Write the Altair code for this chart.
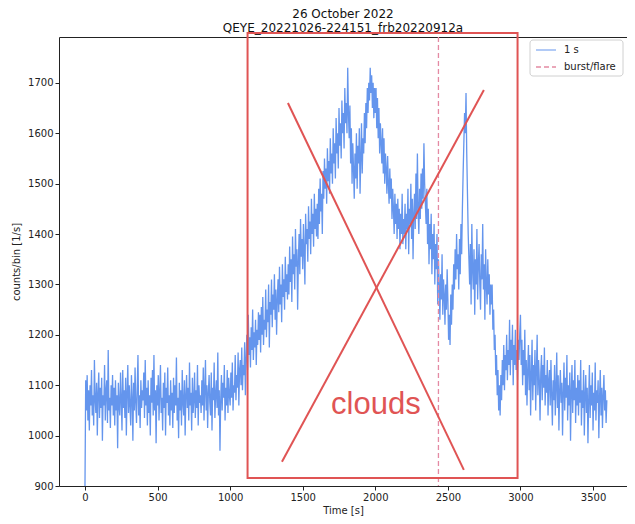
import altair as alt
import pandas as pd

counts = [
    900, 1110, 1050, 1120, 1030, 1090, 1010, 1100, 1060, 1130, 1040, 1080, 1020, 1150, 1070, 1045, 1105, 1000, 1085, 1125,
    1035, 1095, 1055, 1115, 990, 1080, 1060, 1140, 1030, 1090, 1110, 1025, 1170, 1050, 1075, 1015, 1100, 1060, 1120, 1040,
    1095, 1020, 1110, 1050, 1080, 975, 1105, 1060, 1040, 1125, 1070, 1010, 1130, 1055, 1090, 1035, 1115, 1000, 1085, 1140,
    1045, 1100, 1060, 1020, 1120, 1075, 990, 1105, 1050, 1135, 1065, 1025, 1095, 1160, 1040, 1080, 1015, 1110, 1055, 1090,
    1070, 1125, 1035, 1150, 1060, 1095, 1020, 1110, 1045, 1080, 1000, 1115, 1065, 1130, 1040, 1160, 1050, 1090, 985, 1100,
    1060, 1120, 1030, 1085, 1140, 1045, 1075, 1010, 1105, 1055, 1125, 1000, 1095, 1065, 1135, 1040, 1080, 1020, 1110, 1050,
    1085, 1015, 1115, 1045, 1100, 1060, 1155, 1030, 1075, 995, 1105, 1050, 1090, 1020, 1130, 1065, 1040, 1110, 1000, 1080,
    1120, 1055, 1095, 1030, 1145, 1060, 1085, 1010, 1115, 1045, 1070, 1125, 1035, 1090, 1055, 1140, 1020, 1100, 1065, 1080,
    1045, 1110, 1060, 1135, 1030, 1090, 1150, 1050, 1100, 1015, 1085, 1120, 1065, 1040, 1125, 1010, 1095, 1070, 1145, 1035,
    1080, 1110, 1055, 1165, 1040, 1090, 970, 1070, 1120, 1050, 1105, 1075, 1140, 1030, 1095, 1060, 1130, 1045, 1115, 1080,
    1060, 1125, 1075, 1145, 1050, 1100, 1085, 1160, 1070, 1120, 1095, 1165, 1060, 1130, 1150, 1100, 1175, 1090, 1140, 1120,
    1185, 1080, 1150, 1200, 1130, 1240, 1160, 1195, 1135, 1215, 1170, 1250, 1150, 1205, 1175, 1230, 1140, 1210, 1180, 1245,
    1190, 1240, 1165, 1255, 1200, 1275, 1180, 1230, 1210, 1290, 1195, 1250, 1225, 1300, 1175, 1265, 1240, 1310, 1215, 1280,
    1250, 1320, 1230, 1290, 1200, 1270, 1310, 1245, 1335, 1260, 1300, 1225, 1340, 1275, 1310, 1250, 1355, 1285, 1320, 1270,
    1340, 1280, 1375, 1305, 1350, 1265, 1395, 1320, 1360, 1290, 1410, 1335, 1370, 1250, 1345, 1400, 1320, 1430, 1355, 1390,
    1330, 1420, 1365, 1300, 1440, 1380, 1410, 1345, 1455, 1390, 1425, 1360, 1470, 1400, 1440, 1375, 1480, 1410, 1450, 1395,
    1460, 1390, 1490, 1420, 1510, 1445, 1480, 1400, 1525, 1470, 1550, 1490, 1530, 1460, 1570, 1505, 1545, 1480, 1590, 1520,
    1560, 1500, 1610, 1540, 1580, 1510, 1630, 1560, 1600, 1530, 1650, 1575, 1620, 1550, 1665, 1600, 1640, 1570, 1690, 1620,
    1660, 1600, 1730, 1640, 1590, 1655, 1540, 1610, 1500, 1580, 1530, 1470, 1560, 1510, 1600, 1490, 1575, 1540, 1610, 1480,
    1550, 1620, 1520, 1590, 1560, 1640, 1580, 1660, 1610, 1690, 1640, 1700, 1665, 1730, 1680, 1715, 1650, 1700, 1630, 1690,
    1640, 1690, 1610, 1670, 1590, 1650, 1560, 1620, 1580, 1540, 1610, 1520, 1590, 1500, 1560, 1530, 1480, 1555, 1500, 1460,
    1530, 1470, 1510, 1430, 1490, 1450, 1400, 1480, 1420, 1460, 1390, 1470, 1410, 1450, 1370, 1440, 1400, 1480, 1380, 1430,
    1400, 1460, 1370, 1440, 1410, 1490, 1360, 1450, 1420, 1500, 1390, 1470, 1350, 1440, 1480, 1410, 1520, 1430, 1560, 1450,
    1400, 1490, 1430, 1520, 1450, 1530, 1470, 1580, 1500, 1460, 1420, 1490, 1380, 1450, 1340, 1420, 1370, 1440, 1320, 1400,
    1350, 1420, 1300, 1380, 1330, 1400, 1260, 1350, 1300, 1230, 1320, 1270, 1360, 1240, 1310, 1280, 1220, 1300, 1250, 1330,
    1270, 1190, 1240, 1180, 1280, 1220, 1300, 1250, 1340, 1290, 1370, 1310, 1400, 1330, 1360, 1290, 1390, 1320, 1420, 1360,
    1450, 1520, 1580, 1640, 1600, 1680, 1560, 1480, 1400, 1350, 1300, 1380, 1260, 1420, 1330, 1290, 1370, 1240, 1350, 1300,
    1410, 1270, 1340, 1380, 1300, 1250, 1360, 1310, 1420, 1290, 1340, 1230, 1370, 1300, 1260, 1350, 1280, 1320, 1240, 1300,
    1260, 1300, 1210, 1250, 1170, 1200, 1120, 1160, 1080, 1130, 1050, 1100, 1040, 1120, 1070, 1150, 1100, 1180, 1090, 1160,
    1130, 1200, 1110, 1170, 1140, 1230, 1120, 1190, 1150, 1220, 1100, 1180, 1140, 1210, 1130, 1170, 1110, 1190, 1150, 1200,
    1240, 1140, 1190, 1100, 1170, 1120, 1210, 1080, 1150, 1060, 1130, 1180, 1090, 1160, 1040, 1120, 1190, 1070, 1140, 1100,
    1170, 1050, 1130, 1200, 1080, 1150, 1110, 1030, 1125, 1160, 1070, 1140, 1095, 1175, 1060, 1120, 1085, 1150, 1040, 1110,
    1130, 1060, 1150, 1080, 1020, 1110, 1070, 1140, 1040, 1095, 1165, 1055, 1120, 1010, 1090, 1130, 1065, 1105, 1000, 1085,
    1145, 1050, 1115, 1075, 1160, 1030, 1100, 1060, 1125, 990, 1085, 1140, 1045, 1110, 1070, 1150, 1025, 1095, 1060, 1120,
    1040, 1110, 1065, 1150, 1020, 1090, 1055, 1130, 1000, 1080, 1120, 1045, 1095, 985, 1070, 1140, 1035, 1100, 1060, 1125,
    1010, 1085, 1050, 1145, 1030, 1090, 1065, 1110, 995, 1075, 1130, 1040, 1095, 1015, 1080, 1120, 1050, 1090, 1025, 1070,
]
sample_step = 5
times = [i * sample_step for i in range(len(counts))]

burst_time = [2435]

# hand-drawn annotation (in data units)
box_t = [1120, 2980]
box_v = [916, 1799]
cross_t1 = [1398, 1357]
cross_v1 = [1660, 948]
cross_t2 = [2610, 2748]
cross_v2 = [932, 1686]
label_text = ["clouds"]
label_t = [2004]
label_v = [1061]

x_ticks = [0, 500, 1000, 1500, 2000, 2500, 3000, 3500]
y_ticks = [900, 1000, 1100, 1200, 1300, 1400, 1500, 1600, 1700]

BLUE = "#6495ED"
PINK = "#e48aa3"
RED = "#e05454"
FONT = "DejaVu Sans"

xs = alt.Scale(domain=[-179, 3734], nice=False, zero=False)
ys = alt.Scale(domain=[900, 1791], nice=False, zero=False)

df = pd.DataFrame({"t": times, "c": counts})

line = alt.Chart(df).mark_line(color=BLUE, strokeWidth=1.3, clip=True).encode(
    x=alt.X("t:Q", scale=xs, title="Time [s]",
            axis=alt.Axis(values=x_ticks, format="d")),
    y=alt.Y("c:Q", scale=ys, title="counts/bin [1/s]",
            axis=alt.Axis(values=y_ticks, format="d")),
)

burst = alt.Chart(pd.DataFrame({"t": burst_time})).mark_rule(
    color=PINK, strokeWidth=1.3, strokeDash=[5, 3]
).encode(x=alt.X("t:Q", scale=xs))

box = alt.Chart(pd.DataFrame({"t1": [box_t[0]], "t2": [box_t[1]],
                              "v1": [box_v[0]], "v2": [box_v[1]]})).mark_rect(
    fill=None, stroke=RED, strokeWidth=2, fillOpacity=0
).encode(x=alt.X("t1:Q", scale=xs), x2="t2:Q",
         y=alt.Y("v1:Q", scale=ys), y2="v2:Q")

cross = alt.Chart(pd.DataFrame({"t1": cross_t1, "v1": cross_v1,
                                "t2": cross_t2, "v2": cross_v2})).mark_rule(
    color=RED, strokeWidth=2
).encode(x=alt.X("t1:Q", scale=xs), y=alt.Y("v1:Q", scale=ys),
         x2="t2:Q", y2="v2:Q")

label = alt.Chart(pd.DataFrame({"t": label_t, "v": label_v, "s": label_text})).mark_text(
    color=RED, font="Liberation Sans", fontSize=31, align="center", baseline="middle"
).encode(x=alt.X("t:Q", scale=xs), y=alt.Y("v:Q", scale=ys), text="s:N")

one = pd.DataFrame({"a": [0]})
leg_box = alt.Chart(one).mark_rect(
    fill="white", stroke="#d0d0d0", strokeWidth=1, cornerRadius=3
).encode(x=alt.value(471), x2=alt.value(564), y=alt.value(3), y2=alt.value(39))
leg_l1 = alt.Chart(one).mark_rule(color=BLUE, strokeWidth=1).encode(
    x=alt.value(477), x2=alt.value(497), y=alt.value(13))
leg_l2 = alt.Chart(one).mark_rule(color=PINK, strokeWidth=1.3, strokeDash=[5, 3]).encode(
    x=alt.value(477), x2=alt.value(497), y=alt.value(30))
leg_t1 = alt.Chart(one).mark_text(align="left", baseline="middle", fontSize=10, font=FONT, color="#222").encode(
    x=alt.value(505), y=alt.value(13), text=alt.value("1 s"))
leg_t2 = alt.Chart(one).mark_text(align="left", baseline="middle", fontSize=10, font=FONT, color="#222").encode(
    x=alt.value(505), y=alt.value(30), text=alt.value("burst/flare"))

chart = alt.layer(
    line, burst, box, cross, label, leg_box, leg_l1, leg_l2, leg_t1, leg_t2
).properties(
    width=568, height=449,
    autosize=alt.AutoSizeParams(type="none"),
    padding={"left": 51, "top": 29, "right": 0, "bottom": 30},
    title=alt.TitleParams(
        text=["26 October 2022", "QEYE_20221026-224151_frb20220912a"],
        fontSize=12, fontWeight="normal", font=FONT, color="#111",
        anchor="middle", offset=-3, lineHeight=14,
    ),
).configure_view(
    stroke="#222", strokeWidth=1
).configure_axis(
    grid=False, domain=False, ticks=True, tickColor="#222", tickSize=4,
    labelFont=FONT, labelFontSize=10, labelColor="#222", labelPadding=2,
    titleFont=FONT, titleFontSize=10, titleFontWeight="normal", titleColor="#222",
).configure_axisY(titlePadding=6).configure_axisX(titlePadding=3)

chart.save("out.html", embed_options={"renderer": "svg", "actions": False})
